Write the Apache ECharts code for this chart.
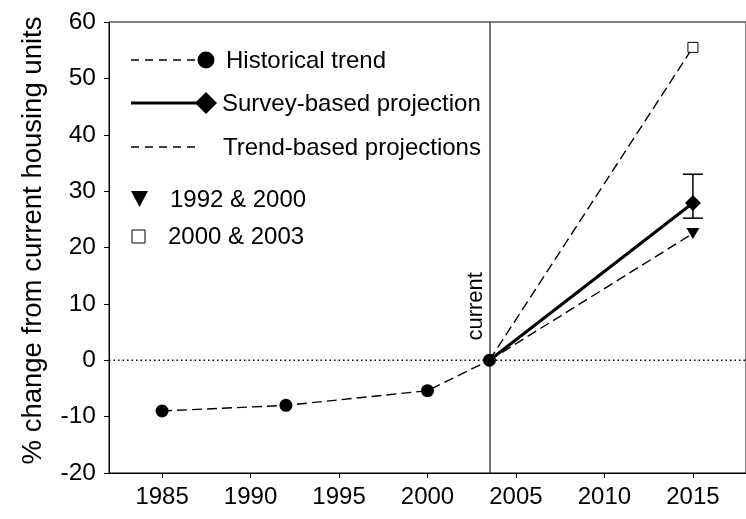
<!DOCTYPE html>
<html>
<head>
<meta charset="utf-8">
<script src="https://cdn.jsdelivr.net/npm/echarts@6/dist/echarts.min.js"></script>
<style>
  html, body { margin: 0; padding: 0; background: #fff; }
  #chart { width: 746px; height: 519px; }
</style>
</head>
<body>
<div id="chart"></div>
<script>
// values
const historyYears = [1985, 1992, 2000, 2003.5];
const historyValues = [-9.0, -8.0, -5.4, 0];
const currentYear = 2003.5;
const projectionYear = 2015;
const surveyValue = 27.9;
const surveyRange = [25.2, 33.0];
const trend1992Value = 22.5;
const trend2000Value = 55.5;
const xTickValues = [1985, 1990, 1995, 2000, 2005, 2010, 2015];
const xMin = 1982;
const xMax = 2018;

const FONT = '"Liberation Sans", Arial, sans-serif';
const dash = [10, 5];

const chart = echarts.init(document.getElementById('chart'));

const historyData = historyYears.map((y, i) => [y, historyValues[i]]);

const option = {
  animation: false,
  textStyle: { fontFamily: FONT, color: '#000' },
  grid: {
    left: 109,
    right: -7,
    top: 22,
    bottom: 46,
    show: true,
    borderColor: '#000',
    borderWidth: 1,
  },
  xAxis: {
    type: 'value',
    min: xMin,
    max: xMax,
    splitLine: { show: false },
    axisLine: { onZero: false, lineStyle: { color: '#000', width: 1 } },
    axisTick: { show: true, length: 5, customValues: xTickValues, lineStyle: { color: '#000' } },
    axisLabel: {
      customValues: xTickValues,
      formatter: (v) => String(v),
      margin: 12,
      fontSize: 24,
      color: '#000',
      fontFamily: FONT,
    },
  },
  yAxis: {
    type: 'value',
    min: -20,
    max: 60,
    interval: 10,
    name: '% change from current housing units',
    nameLocation: 'middle',
    nameGap: 62,
    nameTextStyle: { fontSize: 27.5, color: '#000', fontFamily: FONT, padding: [0, 0, 0, 14] },
    splitLine: { show: false },
    axisLine: { show: true, onZero: false, lineStyle: { color: '#000', width: 1 } },
    axisTick: { show: true, length: 5, lineStyle: { color: '#000' } },
    axisLabel: { margin: 13, fontSize: 24.5, color: '#000', fontFamily: FONT },
  },
  series: [
    {
      name: 'zero line',
      type: 'line',
      data: [[xMin, 0], [xMax, 0]],
      symbol: 'none',
      silent: true,
      z: 1,
      lineStyle: { color: '#000', width: 1.3, type: [1.5, 3] },
    },
    {
      name: 'Historical trend',
      type: 'line',
      data: historyData,
      symbol: 'circle',
      symbolSize: 13,
      z: 5,
      itemStyle: { color: '#000' },
      lineStyle: { color: '#000', width: 1.4, type: dash },
      markLine: {
        silent: true,
        symbol: 'none',
        label: { show: false },
        lineStyle: { color: '#444', width: 1.5, type: 'solid' },
        data: [{ xAxis: currentYear }],
      },
    },
    {
      name: 'Survey-based projection',
      type: 'line',
      data: [[currentYear, 0], [projectionYear, surveyValue]],
      symbol: (value, params) => (params.dataIndex === 1 ? 'diamond' : 'none'),
      symbolSize: 16,
      showAllSymbol: true,
      itemStyle: { color: '#000' },
      lineStyle: { color: '#000', width: 3 },
    },
    {
      name: '1992 & 2000',
      type: 'line',
      data: [[currentYear, 0], [projectionYear, trend1992Value]],
      symbol: (value, params) => (params.dataIndex === 1 ? 'triangle' : 'none'),
      symbolRotate: 180,
      symbolSize: [13, 11],
      itemStyle: { color: '#000' },
      lineStyle: { color: '#000', width: 1.4, type: dash },
    },
    {
      name: '2000 & 2003',
      type: 'line',
      data: [[currentYear, 0], [projectionYear, trend2000Value]],
      symbol: (value, params) => (params.dataIndex === 1 ? 'rect' : 'none'),
      symbolSize: 10,
      itemStyle: { color: '#fff', borderColor: '#000', borderWidth: 1 },
      lineStyle: { color: '#000', width: 1.4, type: dash },
    },
    {
      name: 'survey range',
      type: 'custom',
      data: [[projectionYear, surveyRange[0], surveyRange[1]]],
      z: 3,
      renderItem(params, api) {
        const low = api.coord([api.value(0), api.value(1)]);
        const high = api.coord([api.value(0), api.value(2)]);
        const hw = 10;
        const style = { stroke: '#000', lineWidth: 1.5 };
        return {
          type: 'group',
          children: [
            { type: 'line', shape: { x1: low[0], y1: low[1], x2: high[0], y2: high[1] }, style },
            { type: 'line', shape: { x1: low[0] - hw, y1: low[1], x2: low[0] + hw, y2: low[1] }, style },
            { type: 'line', shape: { x1: high[0] - hw, y1: high[1], x2: high[0] + hw, y2: high[1] }, style },
          ],
        };
      },
    },
  ],
};
chart.setOption(option);

// legend, drawn by hand to look like the original key
const legendText = { fontSize: 24, fontFamily: FONT, fill: '#000' };
const lineX0 = 131;
const lineX1 = 204;
const legend = [
  { type: 'line', shape: { x1: lineX0, y1: 60, x2: lineX1, y2: 60 }, style: { stroke: '#000', lineWidth: 1.3, lineDash: [8, 6] } },
  { type: 'circle', shape: { cx: 206, cy: 60, r: 8.5 }, style: { fill: '#000' } },
  { type: 'text', x: 226, y: 61, style: { ...legendText, text: 'Historical trend', verticalAlign: 'middle' } },
  { type: 'line', shape: { x1: lineX0, y1: 103, x2: lineX1, y2: 103 }, style: { stroke: '#000', lineWidth: 3 } },
  { type: 'polygon', shape: { points: [[206, 92], [217, 103], [206, 114], [195, 103]] }, style: { fill: '#000' } },
  { type: 'text', x: 222, y: 104, style: { ...legendText, text: 'Survey-based projection', verticalAlign: 'middle' } },
  { type: 'line', shape: { x1: lineX0, y1: 147, x2: lineX1 - 4, y2: 147 }, style: { stroke: '#000', lineWidth: 1.3, lineDash: [8, 6] } },
  { type: 'text', x: 223, y: 148, style: { ...legendText, text: 'Trend-based projections', verticalAlign: 'middle' } },
  { type: 'polygon', shape: { points: [[131, 191], [148, 191], [139.5, 207]] }, style: { fill: '#000' } },
  { type: 'text', x: 170, y: 200, style: { ...legendText, text: '1992 & 2000', verticalAlign: 'middle' } },
  { type: 'rect', shape: { x: 132, y: 230, width: 13, height: 13 }, style: { fill: '#fff', stroke: '#000', lineWidth: 1 } },
  { type: 'text', x: 168, y: 237, style: { ...legendText, text: '2000 & 2003', verticalAlign: 'middle' } },
];

// "current" label beside the vertical line
const labelPos = chart.convertToPixel({ gridIndex: 0 }, [currentYear, 3.5]);
legend.push({
  type: 'text',
  x: labelPos[0] - 2,
  y: labelPos[1],
  rotation: Math.PI / 2,
  style: { fontSize: 22, fontFamily: FONT, fill: '#000', text: 'current', align: 'left', verticalAlign: 'bottom' },
});

chart.setOption({ graphic: legend });
</script>
</body>
</html>
